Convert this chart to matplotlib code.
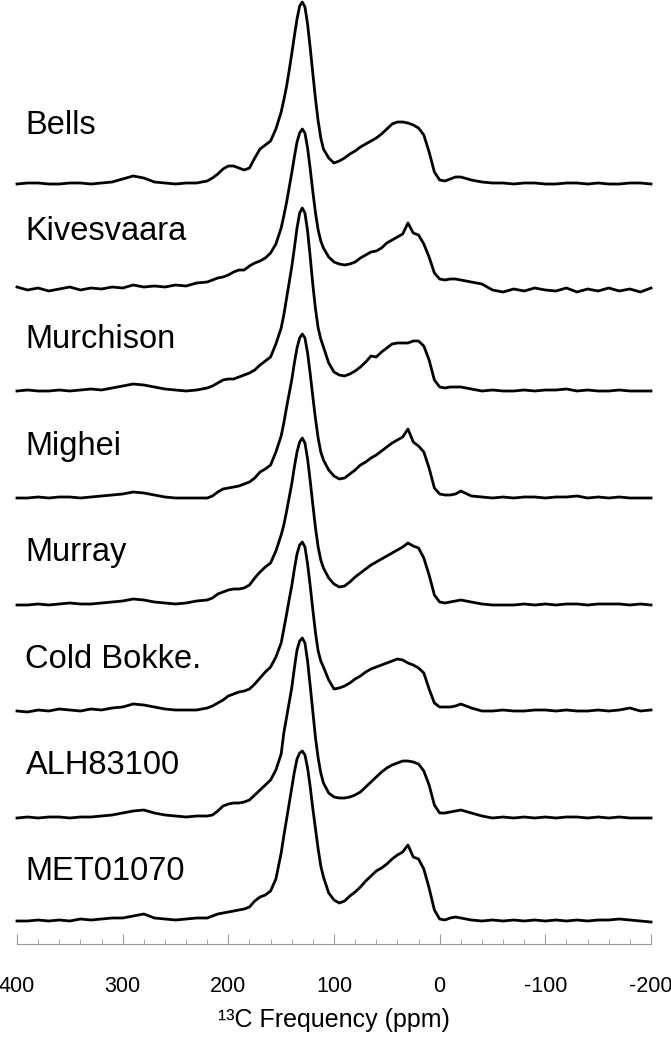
import numpy as np
import matplotlib.pyplot as plt
from matplotlib.ticker import MultipleLocator

plt.rcParams['font.family'] = ['Liberation Sans', 'DejaVu Sans']
plt.rcParams['axes.unicode_minus'] = False

ppm = [400, 390, 380, 370, 360, 350, 340, 330, 320, 310, 300, 290, 280, 270, 260, 250, 240, 230,
       220, 215, 210, 205, 200, 195, 190, 185, 180, 175, 170, 165, 160, 155, 150,
       147.5, 145, 142.5, 140, 137.5, 135, 132.5, 130, 127.5, 125, 122.5, 120, 117.5, 115, 112.5,
       110, 105, 100, 95, 90, 85, 80, 75, 70, 65, 60, 55, 50, 45, 40, 35, 30, 25, 20, 15, 10, 5, 0,
       -5, -10, -15, -20,
       -30, -40, -50, -60, -70, -80, -90, -100, -110, -120, -130, -140, -150, -160, -170, -180, -190, -200]

# intensities (arbitrary units)
bells = [0, 1, 1, 0, 0, 1, 1, 0, 1, 2, 5, 8, 6, 2, 1, 0, 1, 1,
         3, 6, 10, 15, 18, 18, 16, 14, 16, 26, 35, 39, 43, 55, 72,
         84, 97, 113, 130, 148, 165, 178, 182, 177, 160, 136, 110, 85, 63, 46,
         35, 26, 21, 23, 26, 30, 33, 37, 40, 43, 46, 50, 55, 60, 62, 62, 61, 59, 56, 49, 32, 12, 4,
         3, 5, 7, 7,
         4, 2, 1, 1, 0, 1, 1, 0, 0, 1, 1, 0, 1, 0, 0, 1, 1, 0]
kivesvaara = [3, 0, 2, -1, 1, 3, 0, 2, 1, 3, 2, 5, 3, 4, 3, 5, 4, 7,
              8, 10, 12, 13, 15, 18, 20, 20, 24, 27, 29, 32, 37, 46, 62,
              74, 87, 102, 117, 133, 148, 157, 161, 157, 142, 121, 98, 77, 60, 49,
              42, 33, 28, 26, 25, 26, 28, 32, 35, 38, 39, 42, 47, 50, 53, 56, 67, 57, 55, 46, 33, 17, 11,
              10, 11, 11, 10,
              8, 6, 0, -2, 1, -1, 2, 0, -1, 2, -2, 1, -1, 2, -1, 1, -2, 2]
murchison = [0, 1, 0, 0, 1, 0, 1, 2, 1, 3, 5, 7, 6, 4, 2, 1, 0, 1,
             3, 5, 8, 11, 12, 12, 14, 16, 18, 21, 26, 30, 34, 47, 63,
             76, 92, 108, 124, 143, 163, 178, 183, 178, 160, 134, 106, 82, 63, 52,
             44, 28, 19, 16, 15, 17, 20, 24, 29, 35, 34, 39, 43, 47, 48, 48, 48, 50, 50, 45, 31, 11, 4,
             3, 4, 4, 4,
             2, 0, 1, 0, 0, 1, 0, 1, 1, 2, 0, 1, 0, 0, 1, 0, 0, 0]
mighei = [0, 0, 1, 0, 1, 1, 0, 1, 2, 3, 4, 6, 5, 3, 1, 0, 0, 0,
          0, 2, 6, 9, 10, 11, 12, 14, 16, 20, 26, 29, 33, 46, 62,
          75, 90, 104, 118, 135, 150, 160, 164, 160, 145, 124, 101, 79, 60, 46,
          38, 28, 22, 19, 20, 24, 28, 33, 36, 40, 43, 47, 51, 55, 58, 61, 69, 56, 52, 46, 30, 10, 4,
          3, 3, 4, 7,
          2, 1, 0, 1, 0, 1, 1, 0, 1, 1, 2, 0, 1, 0, 1, 0, 0, 0]
murray = [0, 0, 1, 0, 1, 2, 1, 1, 2, 3, 4, 6, 5, 3, 2, 1, 2, 4,
          5, 7, 11, 13, 15, 16, 16, 17, 20, 27, 33, 38, 42, 54, 70,
          80, 93, 107, 121, 138, 153, 163, 167, 162, 146, 124, 100, 77, 58, 45,
          37, 27, 21, 18, 19, 23, 28, 32, 36, 40, 43, 46, 49, 52, 55, 58, 62, 59, 57, 47, 30, 10, 3,
          2, 3, 4, 5,
          3, 1, 0, 0, 0, 1, 0, 1, 0, 1, 1, 0, 1, 1, 1, 0, 1, 0]
cold_bokkeveld = [0, -1, 1, 0, 2, 1, 0, 2, 1, 3, 4, 7, 6, 4, 2, 1, 1, 1,
                  3, 5, 8, 11, 15, 17, 19, 20, 22, 27, 33, 39, 44, 54, 68,
                  82, 96, 111, 125, 142, 157, 166, 169, 164, 147, 125, 101, 78, 60, 50,
                  44, 31, 22, 23, 25, 28, 32, 35, 39, 42, 44, 46, 48, 50, 52, 51, 48, 46, 43, 38, 22, 8, 4,
                  4, 4, 5, 7,
                  3, 0, 0, 1, 0, 0, 1, 1, 0, 1, 0, 0, 1, 0, 1, 3, 0, 1]
alh83100 = [0, 1, 0, 1, 1, 0, 1, 1, 2, 3, 5, 7, 8, 5, 3, 2, 1, 2,
            2, 3, 7, 12, 14, 15, 15, 16, 18, 23, 28, 33, 38, 48, 64,
            85, 100, 115, 130, 150, 168, 177, 180, 175, 157, 132, 106, 80, 60, 45,
            35, 25, 21, 20, 20, 21, 23, 26, 31, 36, 41, 46, 50, 53, 55, 57, 57, 56, 54, 47, 33, 13, 5,
            5, 6, 7, 8,
            5, 2, 0, 1, 0, 1, 0, 1, 0, 1, 1, 0, 1, 0, 1, 0, 0, 0]
met01070 = [0, 0, 1, 0, 1, 0, 2, 1, 2, 3, 3, 5, 7, 3, 2, 1, 2, 3,
            3, 5, 7, 8, 9, 10, 11, 12, 14, 20, 24, 26, 30, 42, 68,
            85, 101, 117, 133, 149, 162, 168, 170, 166, 153, 134, 112, 92, 72, 55,
            44, 28, 21, 18, 20, 25, 29, 34, 40, 45, 50, 53, 57, 62, 66, 69, 76, 64, 62, 52, 33, 11, 2,
            1, 3, 4, 3,
            1, 0, 1, 0, 1, 0, 1, 0, 1, 0, 1, 0, 1, 1, 2, 1, 0, -1]

names = ['Bells', 'Kivesvaara', 'Murchison', 'Mighei', 'Murray',
         'Cold Bokke.', 'ALH83100', 'MET01070']
spectra = [bells, kivesvaara, murchison, mighei, murray,
           cold_bokkeveld, alh83100, met01070]

# stacking offsets (same units as intensity, counted down from the top)
offsets = [184, 290, 391, 498, 605, 711, 818, 921]
label_y = [125, 232, 340, 447, 553, 660, 766, 872]

fig = plt.figure(figsize=(6.71, 10.40), dpi=100)
ax = fig.add_axes([17 / 671, 96 / 1040, 634 / 671, 944 / 1040])

for name, spec, off, ly in zip(names, spectra, offsets, label_y):
    ax.plot(ppm, np.array(spec) - off, color='black', lw=2.0, clip_on=False,
            solid_joinstyle='round')
    ax.text(392, -ly, name, fontsize=23.5, va='center', ha='left')

ax.set_xlim(400, -200)
ax.set_ylim(-944, 0)
ax.set_yticks([])
for side in ['top', 'left', 'right']:
    ax.spines[side].set_visible(False)
ax.spines['bottom'].set_color('#999999')
ax.spines['bottom'].set_linewidth(0.8)

ax.xaxis.set_major_locator(MultipleLocator(100))
ax.xaxis.set_minor_locator(MultipleLocator(20))
ax.tick_params(axis='x', which='major', direction='in', length=7.5, width=0.8,
               color='#999999', pad=23, labelsize=15.5)
ax.tick_params(axis='x', which='minor', direction='in', length=3.5, width=0.6,
               color='#999999')
ax.set_xlabel('¹³C Frequency (ppm)', fontsize=18, labelpad=8)

fig.savefig('out.png', dpi=100)
